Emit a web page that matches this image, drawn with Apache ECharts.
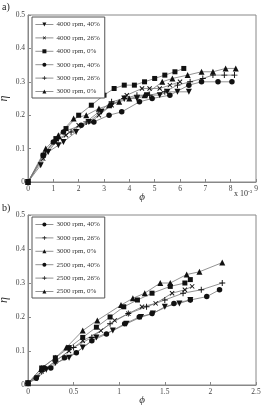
<!DOCTYPE html>
<html>
<head>
<meta charset="utf-8">
<style>
  * { margin: 0; padding: 0; }
  body { background: #fff; }
  #main { width: 262px; height: 408px; }
</style>
</head>
<body>
<div id="main"></div>
<script src="https://cdn.jsdelivr.net/npm/echarts@6/dist/echarts.min.js"></script>
<script>
// panel a) phi in units of 1e-3
var namesA = ['4000 rpm, 40%', '4000 rpm, 26%', '4000 rpm, 0%', '3000 rpm, 40%', '3000 rpm, 26%', '3000 rpm, 0%'];
var a40k40 = [[0,0],[0.5,0.05],[0.8,0.09],[1.2,0.11],[1.4,0.12],[1.9,0.15],[2.4,0.18],[2.9,0.21],[3.3,0.23],[3.8,0.25],[4.3,0.25],[4.7,0.26],[5.2,0.26],[5.5,0.27],[5.9,0.27],[6.35,0.27]];
var a40k26 = [[0,0],[0.6,0.07],[1.1,0.12],[1.5,0.14],[2.0,0.17],[2.5,0.18],[2.8,0.2],[3.3,0.23],[3.9,0.26],[4.5,0.28],[4.8,0.28],[5.2,0.28],[5.6,0.29],[6.0,0.3]];
var a40k0 = [[0,0],[0.6,0.08],[1.1,0.13],[1.5,0.16],[2.0,0.2],[2.5,0.23],[3.0,0.26],[3.4,0.28],[3.8,0.29],[4.2,0.29],[4.6,0.3],[5.0,0.31],[5.4,0.32],[5.8,0.33],[6.15,0.34]];
var a30k40 = [[0,0],[0.6,0.08],[1.0,0.12],[1.4,0.15],[2.1,0.17],[2.6,0.18],[3.2,0.2],[3.7,0.21],[4.4,0.24],[4.9,0.25],[5.6,0.26],[6.35,0.29],[6.85,0.3],[7.5,0.3],[8.05,0.3]];
var a30k26 = [[0,0],[0.7,0.09],[1.2,0.13],[1.7,0.15],[2.3,0.18],[2.8,0.21],[3.3,0.24],[3.8,0.25],[4.3,0.26],[4.8,0.26],[5.4,0.27],[5.9,0.29],[6.4,0.3],[6.9,0.31],[7.3,0.32],[7.75,0.32],[8.15,0.32]];
var a30k0 = [[0,0],[0.7,0.1],[1.2,0.14],[1.8,0.19],[2.3,0.2],[2.8,0.22],[3.2,0.23],[3.6,0.24],[4.0,0.25],[4.6,0.26],[5.3,0.3],[5.7,0.31],[6.3,0.32],[6.85,0.33],[7.3,0.33],[7.8,0.34],[8.2,0.34]];

// panel b)
var namesB = ['3000 rpm, 40%', '3000 rpm, 26%', '3000 rpm, 0%', '2500 rpm, 40%', '2500 rpm, 26%', '2500 rpm, 0%'];
var b30k40 = [[0,0.005],[0.1,0.02],[0.2,0.045],[0.3,0.065],[0.45,0.08],[0.6,0.11],[0.75,0.14],[0.93,0.16],[1.08,0.18],[1.24,0.2],[1.37,0.21],[1.5,0.23],[1.66,0.24],[1.78,0.25]];
var b30k26 = [[0,0.005],[0.15,0.04],[0.3,0.07],[0.45,0.1],[0.6,0.13],[0.8,0.16],[0.95,0.19],[1.1,0.21],[1.25,0.23],[1.4,0.24],[1.58,0.27],[1.72,0.28],[1.8,0.29]];
var b30k0 = [[0,0.005],[0.15,0.05],[0.3,0.08],[0.45,0.11],[0.6,0.14],[0.75,0.17],[0.9,0.2],[1.05,0.23],[1.2,0.25],[1.36,0.27],[1.56,0.29],[1.72,0.3],[1.78,0.31]];
var b25k40 = [[0,0.005],[0.09,0.02],[0.18,0.05],[0.25,0.05],[0.4,0.08],[0.53,0.095],[0.7,0.13],[0.86,0.15],[1.06,0.18],[1.22,0.2],[1.36,0.21],[1.6,0.24],[1.78,0.25],[1.96,0.26],[2.1,0.28]];
var b25k26 = [[0,0.005],[0.15,0.04],[0.3,0.07],[0.5,0.11],[0.7,0.14],[0.9,0.18],[1.1,0.21],[1.3,0.23],[1.5,0.25],[1.7,0.27],[1.9,0.28],[2.13,0.3]];
var b25k0 = [[0,0.005],[0.15,0.05],[0.3,0.08],[0.42,0.11],[0.6,0.16],[0.76,0.19],[1.02,0.235],[1.15,0.255],[1.28,0.27],[1.45,0.3],[1.56,0.3],[1.74,0.325],[1.88,0.333],[2.13,0.36]];

var font = '"Liberation Serif", "DejaVu Serif", serif';
var plus = 'path://M4.2,0h1.6v10h-1.6zM0,4.2h10v1.6h-10z';
// marker per series position: down triangle, x, square, circle, plus, triangle
var marks = [
  { symbol: 'triangle', rotate: 180, size: 6 },
  { symbol: plus, rotate: 45, size: 6 },
  { symbol: 'rect', rotate: 0, size: 5 },
  { symbol: 'circle', rotate: 0, size: 5.5 },
  { symbol: plus, rotate: 0, size: 6 },
  { symbol: 'triangle', rotate: 0, size: 6 }
];

function mkSeries(names, datas, idx) {
  return datas.map(function (d, i) {
    return {
      type: 'line',
      name: names[i],
      data: d,
      xAxisIndex: idx,
      yAxisIndex: idx,
      symbol: marks[i].symbol,
      symbolRotate: marks[i].rotate,
      symbolSize: marks[i].size,
      showAllSymbol: true,
      lineStyle: { color: '#777', width: 0.8 },
      itemStyle: { color: '#111', borderWidth: 0 },
      emphasis: { disabled: true },
      animation: false,
      z: 3
    };
  });
}

function mkX(idx, max, interval) {
  return {
    type: 'value', gridIndex: idx, min: 0, max: max, interval: interval,
    name: 'ϕ', nameLocation: 'middle', nameGap: 10, nameMoveOverlap: false,
    nameTextStyle: { fontFamily: font, fontStyle: 'italic', fontSize: 11, color: '#333' },
    axisLine: { lineStyle: { color: '#888', width: 1 } },
    axisTick: { inside: true, length: 3, lineStyle: { color: '#888' } },
    axisLabel: { fontFamily: font, fontSize: 7.5, color: '#444', margin: 3 },
    splitLine: { show: false }
  };
}
function mkY(idx) {
  return {
    type: 'value', gridIndex: idx, min: 0, max: 0.5, interval: 0.1,
    name: 'η', nameLocation: 'middle', nameGap: 18, nameRotate: 90, nameMoveOverlap: false,
    nameTextStyle: { fontFamily: font, fontStyle: 'italic', fontSize: 12, color: '#333' },
    axisLine: { lineStyle: { color: '#888', width: 1 } },
    axisTick: { inside: true, length: 3, lineStyle: { color: '#888' } },
    axisLabel: { fontFamily: font, fontSize: 7.5, color: '#444', margin: 3,
      formatter: function (v) { return v === 0 ? '0' : v.toFixed(1); } },
    splitLine: { show: false }
  };
}
function mkLegend(names, top) {
  return {
    data: names, orient: 'vertical', left: 32, top: top,
    itemWidth: 18, itemHeight: 5, itemGap: 6.4,
    padding: [4, 5, 3, 3],
    borderColor: '#555', borderWidth: 1, backgroundColor: '#fff',
    lineStyle: { color: '#777', width: 0.8 },
    textStyle: { fontFamily: font, fontSize: 7, color: '#333', padding: [0, 0, 0, -2] },
    selectedMode: false
  };
}

var chart = echarts.init(document.getElementById('main'), null, { renderer: 'canvas' });
var option = {
  backgroundColor: '#fff',
  animation: false,
  grid: [
    { left: 28, top: 15, width: 228, height: 167, show: true, borderColor: '#888', borderWidth: 1,
      containLabel: false, outerBoundsMode: 'none' },
    { left: 28, top: 215, width: 228, height: 170, show: true, borderColor: '#888', borderWidth: 1,
      containLabel: false, outerBoundsMode: 'none' }
  ],
  xAxis: [mkX(0, 9, 1), mkX(1, 2.5, 0.5)],
  yAxis: [mkY(0), mkY(1)],
  legend: [mkLegend(namesA, 17), mkLegend(namesB, 217)],
  series: mkSeries(namesA, [a40k40, a40k26, a40k0, a30k40, a30k26, a30k0], 0)
    .concat(mkSeries(namesB, [b30k40, b30k26, b30k0, b25k40, b25k26, b25k0], 1)),
  graphic: [
    { type: 'text', left: 2, top: 2, style: { text: 'a)', fontFamily: font, fontSize: 10, fill: '#222' } },
    { type: 'text', left: 2, top: 203, style: { text: 'b)', fontFamily: font, fontSize: 10, fill: '#222' } },
    { type: 'text', left: 234, top: 189, style: {
        text: 'x 10{s|-3}', fontFamily: font, fontSize: 8, fill: '#333',
        rich: { s: { fontSize: 5, verticalAlign: 'top', padding: [0, 0, 5, 0], fontFamily: font, fill: '#333' } } } }
  ]
};
chart.setOption(option);
</script>
</body>
</html>
